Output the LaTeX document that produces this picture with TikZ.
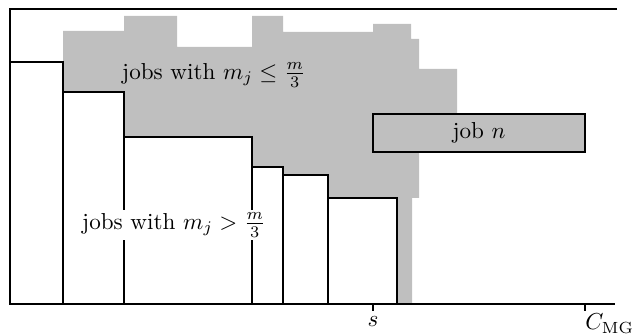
\documentclass[tikz,border=0pt]{standalone}
\begin{document}
\begin{tikzpicture}[x=0.433pt,y=-0.433pt,
  frameline/.style={line width=0.75pt},
  jobbox/.style={draw, line width=0.65pt, fill=white},
  smallfill/.style={fill=black!25},
  lbl/.style={inner sep=1.5pt}]
\useasboundingbox (0,0) rectangle (633,336);
% gray region of small jobs
\fill[smallfill] (63,31) -| (124,16) -| (177,47) -| (252,16) -| (283,32) -| (373,24)
  -| (411,39) -| (419,69) -| (457,153) -| (419,198) -| (412,304) -- (63,304) -- cycle;
% large jobs
\draw[jobbox] (10,62) rectangle (63,304);
\draw[jobbox] (63,92) rectangle (124,304);
\draw[jobbox] (124,137) rectangle (252,304);
\draw[jobbox] (252,167) rectangle (283,304);
\draw[jobbox] (283,175) rectangle (328,304);
\draw[jobbox] (328,198) rectangle (397,304);
% job n
\draw[jobbox, fill=black!25] (373,114) rectangle (585,152);
\node[lbl] (jn) at (479,133) {job $n$};
% frame
\coordinate (tl) at (10,9);
\coordinate (bl) at (10,304);
\coordinate (br) at (615,304);
\coordinate (tr) at (617,9);
\draw[frameline] (tr) -- (tl) -- (bl) -- (br);
% labels
\node[lbl] (small) at (214,75) {jobs with $m_j \le \frac{m}{3}$};
\node[lbl, fill=white] (large) at (174,225) {jobs with $m_j > \frac{m}{3}$};
% ticks
\coordinate (s0) at (373,304);
\coordinate (s1) at (373,311);
\coordinate (c0) at (585,304);
\coordinate (c1) at (585,311);
\draw[frameline] (s0) -- (s1);
\draw[frameline] (c0) -- (c1);
\node[anchor=north, inner sep=2pt] (sl) at (s1) {$s$};
\node[anchor=north west, inner sep=1pt] (cl) at ([xshift=-1pt]c1) {$C_{\mathrm{MG}}$};
\end{tikzpicture}
\end{document}
